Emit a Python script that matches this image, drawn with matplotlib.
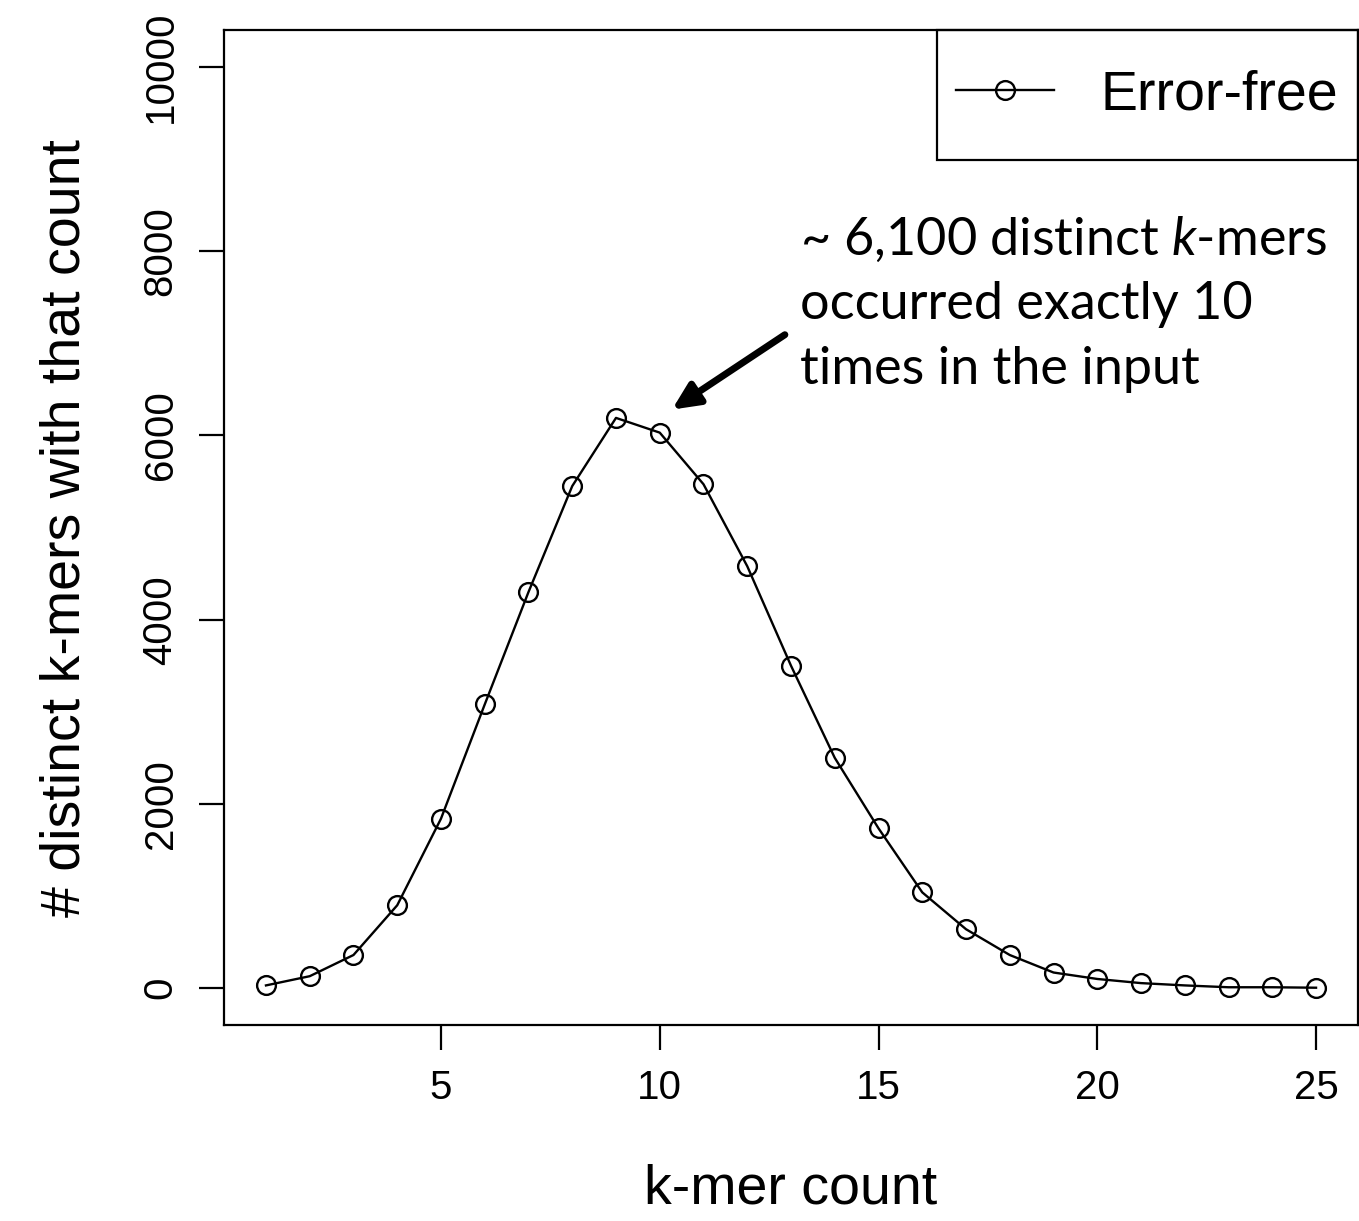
import numpy as np
import matplotlib
matplotlib.use("Agg")
import matplotlib.pyplot as plt
from matplotlib.patches import Rectangle

# k-mer count spectrum (error-free reads)
kmer_count = list(range(1, 26))
n_distinct = [30, 130, 360, 900, 1840, 3080, 4300, 5450, 6190, 6030,
              5470, 4580, 3500, 2500, 1735, 1040, 640, 360, 170, 100,
              55, 30, 10, 10, 5]
x_ticks = [5, 10, 15, 20, 25]
y_ticks = [0, 2000, 4000, 6000, 8000, 10000]

plt.rcParams["font.family"] = ["Liberation Sans", "DejaVu Sans"]
plt.rcParams["mathtext.fontset"] = "custom"
plt.rcParams["mathtext.it"] = "Lato:italic"
plt.rcParams["mathtext.rm"] = "Lato"

fig = plt.figure(figsize=(13.59, 12.21), dpi=100)
ax = fig.add_axes([0.1648, 0.1605, 0.8345, 0.8149])

ax.plot(kmer_count, n_distinct, color="black", lw=1.7, marker="o",
        ms=13.5, mfc="none", mec="black", mew=1.7, label="Error-free")

ax.set_xlim(0.04, 25.96)
ax.set_ylim(-400, 10400)
ax.set_xticks(x_ticks)
ax.set_yticks(y_ticks)
ax.tick_params(length=18, width=1.6, labelsize=29, pad=14)
for lab in ax.get_yticklabels():
    lab.set_rotation(90)
    lab.set_va("center")
for sp in ax.spines.values():
    sp.set_linewidth(1.6)

ax.set_xlabel("k-mer count", fontsize=40, labelpad=40)
ax.set_ylabel("# distinct k-mers with that count", fontsize=40, labelpad=36)

# legend: R-style box, frame drawn separately so its size matches
box = (0.6287, 0.8693, 0.3713, 0.1307)
ax.add_patch(Rectangle(box[:2], box[2], box[3], transform=ax.transAxes,
                       fill=False, edgecolor="black", lw=1.6, zorder=5,
                       clip_on=False))
ax.legend(loc="center", bbox_to_anchor=box, frameon=False, fontsize=40,
          handlelength=1.75, handletextpad=0.85, borderpad=0, borderaxespad=0)

# annotation for the peak
ax.text(13.2, 8400, "~ 6,100 distinct $k$-mers\noccurred exactly 10\ntimes in the input",
        fontsize=37.5, family="Lato", ha="left", va="top", linespacing=1.47)
ax.annotate("", xy=(10.28, 6280), xytext=(12.86, 7093),
            arrowprops=dict(arrowstyle="-|>,head_length=1.6,head_width=0.75",
                            color="black", lw=5, shrinkA=0, shrinkB=0))

fig.savefig("out.png", dpi=100)
